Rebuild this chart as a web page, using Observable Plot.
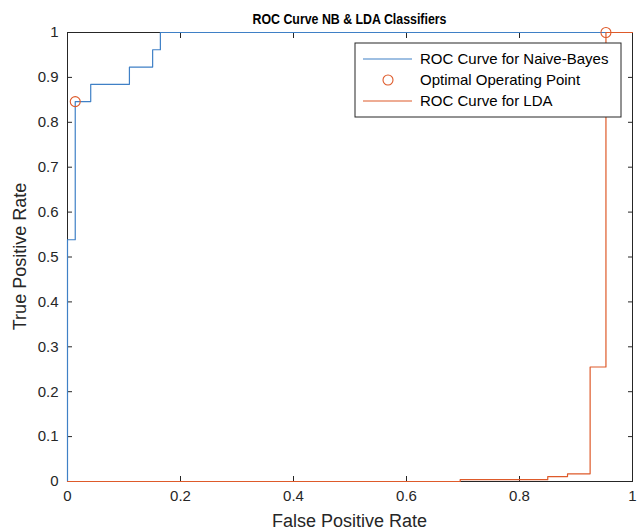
<!DOCTYPE html>
<html>
<head>
<meta charset="utf-8">
<script src="https://cdn.jsdelivr.net/npm/d3@7"></script>
<script src="https://cdn.jsdelivr.net/npm/@observablehq/plot@0.6"></script>
<style>
  html, body { margin: 0; padding: 0; background: #fff; }
  #chart svg { display: block; }
</style>
</head>
<body>
<div id="chart"></div>
<script>
// ---- data ----
const nbFpr = [0, 0, 1/73, 3/73, 8/73, 11/73, 12/73, 1];
const nbTpr = [0, 14/26, 22/26, 23/26, 24/26, 25/26, 1, 1];
const ldaFpr = [0, 0.695, 0.85, 0.885, 0.925, 0.953, 1];
const ldaTpr = [0, 0.004, 0.011, 0.017, 0.255, 1, 1];
const optFpr = [1/73, 0.953];
const optTpr = [22/26, 1];
const xTicks = [0, 0.2, 0.4, 0.6, 0.8, 1];
const yTicks = [0, 0.1, 0.2, 0.3, 0.4, 0.5, 0.6, 0.7, 0.8, 0.9, 1];
const titleText = "ROC Curve NB & LDA Classifiers";
const xLabel = "False Positive Rate";
const yLabel = "True Positive Rate";
const legendLabels = ["ROC Curve for Naive-Bayes", "Optimal Operating Point", "ROC Curve for LDA"];

const BLUE = "#3F80C6";
const ORANGE = "#DE5A2A";
const AXIS = "#262626";
const FONT = "'Liberation Sans', Arial, Helvetica, sans-serif";

const nb = nbFpr.map((x, i) => ({x, y: nbTpr[i]}));
const lda = ldaFpr.map((x, i) => ({x, y: ldaTpr[i]}));
const opt = optFpr.map((x, i) => ({x, y: optTpr[i]}));
const fmt = d3.format("~g");

const W = 638, H = 532;
const mL = 67, mR = 6, mT = 32, mB = 51;

const plot = Plot.plot({
  width: W,
  height: H,
  marginLeft: mL,
  marginRight: mR,
  marginTop: mT,
  marginBottom: mB,
  style: {fontFamily: FONT, fontSize: "15px", color: AXIS, background: "#fff"},
  x: {domain: [0, 1]},
  y: {domain: [0, 1]},
  marks: [
    Plot.frame({stroke: AXIS, strokeWidth: 1}),
    Plot.axisX(xTicks, {anchor: "bottom", tickSize: -5, tickPadding: 14, tickFormat: fmt, label: null, stroke: AXIS, fill: AXIS}),
    Plot.axisX(xTicks, {anchor: "top", tickSize: -5, tickFormat: () => "", label: null, stroke: AXIS}),
    Plot.axisY(yTicks, {anchor: "left", tickSize: -5, tickPadding: 14, tickFormat: fmt, label: null, stroke: AXIS, fill: AXIS}),
    Plot.axisY(yTicks, {anchor: "right", tickSize: -5, tickFormat: () => "", label: null, stroke: AXIS}),
    Plot.line(nb, {x: "x", y: "y", curve: "step-after", stroke: BLUE, strokeWidth: 1.2}),
    Plot.line(lda, {x: "x", y: "y", curve: "step-after", stroke: ORANGE, strokeWidth: 1.2}),
    Plot.dot(opt, {x: "x", y: "y", r: 5, stroke: ORANGE, fill: "none", strokeWidth: 1.1})
  ]
});

document.getElementById("chart").appendChild(plot);

const svg = d3.select(plot);
const cx = mL + (W - mL - mR) / 2;

// title
svg.append("text")
  .attr("x", cx).attr("y", 24)
  .attr("text-anchor", "middle")
  .attr("textLength", 194)
  .attr("lengthAdjust", "spacingAndGlyphs")
  .style("font-family", FONT).style("font-size", "14px").style("font-weight", "bold")
  .attr("fill", "#000")
  .text(titleText);

// x label
svg.append("text")
  .attr("x", cx).attr("y", 527)
  .attr("text-anchor", "middle")
  .style("font-family", FONT).style("font-size", "18px")
  .attr("fill", AXIS)
  .text(xLabel);

// y label
svg.append("text")
  .attr("transform", `translate(26, ${mT + (H - mT - mB) / 2}) rotate(-90)`)
  .attr("text-anchor", "middle")
  .style("font-family", FONT).style("font-size", "18px")
  .attr("fill", AXIS)
  .text(yLabel);

// legend
const lg = svg.append("g").attr("text-anchor", "start");
const lx = 355, ly = 43, lw = 266, lh = 74;
lg.append("rect").attr("x", lx).attr("y", ly).attr("width", lw).attr("height", lh)
  .attr("fill", "#fff").attr("stroke", AXIS).attr("stroke-width", 1);
const rowY = [59, 80, 101];
const kinds = ["lineBlue", "dot", "lineOrange"];
kinds.forEach((k, i) => {
  const y = rowY[i];
  if (k === "dot") {
    lg.append("circle").attr("cx", 388).attr("cy", y).attr("r", 5)
      .attr("fill", "none").attr("stroke", ORANGE).attr("stroke-width", 1.1);
  } else {
    lg.append("line").attr("x1", 363).attr("x2", 412).attr("y1", y).attr("y2", y)
      .attr("stroke", k === "lineBlue" ? BLUE : ORANGE).attr("stroke-width", 1.2);
  }
  lg.append("text").attr("x", 420).attr("y", y + 5)
    .attr("text-anchor", "start")
    .style("font-family", FONT).style("font-size", "15px")
    .attr("fill", "#000")
    .text(legendLabels[i]);
});
</script>
</body>
</html>
